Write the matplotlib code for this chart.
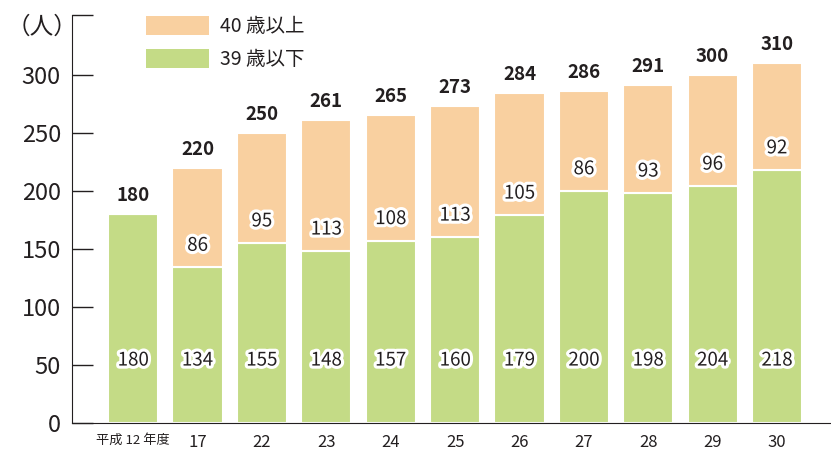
import matplotlib
matplotlib.use("Agg")
import matplotlib.pyplot as plt
import matplotlib.patheffects as pe
from matplotlib.patches import Patch

plt.rcParams['font.family'] = ['Noto Sans CJK JP', 'DejaVu Sans']

years = ["平成 12 年度", "17", "22", "23", "24", "25", "26", "27", "28", "29", "30"]
under39 = [180, 134, 155, 148, 157, 160, 179, 200, 198, 204, 218]
over40 = [0, 86, 95, 113, 108, 113, 105, 86, 93, 96, 92]
totals = [180, 220, 250, 261, 265, 273, 284, 286, 291, 300, 310]

green = "#c4db86"
orange = "#f9d0a0"
ink = "#231f20"

fig = plt.figure(figsize=(8.31, 4.5), dpi=100)
ax = fig.add_axes([0.0866, 0.0607, 0.912, 0.907])

x = list(range(len(years)))
w = 0.78
ax.bar(x, under39, width=w, color=green, edgecolor="white", linewidth=1.5, zorder=2)
ax.bar(x, over40, width=w, bottom=under39, color=orange, edgecolor="white", linewidth=1.5, zorder=2)

halo = [pe.withStroke(linewidth=4.5, foreground="white")]
for i in x:
    ax.text(i, 54, str(under39[i]), ha="center", va="center", fontsize=13.5,
            color=ink, path_effects=halo, zorder=3)
    if over40[i] > 0:
        ax.text(i, under39[i] + 19, str(over40[i]), ha="center", va="center",
                fontsize=13.5, color=ink, path_effects=halo, zorder=3)
    ax.text(i, totals[i] + 16, str(totals[i]), ha="center", va="center",
            fontsize=13.5, fontweight="bold", color=ink, zorder=3)

ax.set_xlim(-0.95, 10.82)
ax.set_ylim(0, 352)
ax.spines["top"].set_visible(False)
ax.spines["right"].set_visible(False)
ax.spines["left"].set_bounds(0, 352)
ax.spines["left"].set_color(ink)
ax.spines["bottom"].set_color(ink)

ax.set_yticks([0, 50, 100, 150, 200, 250, 300, 352])
ax.set_yticklabels(["0", "50", "100", "150", "200", "250", "300", ""])
ax.tick_params(axis="y", direction="in", length=15, width=1, color=ink,
               labelsize=17, labelcolor=ink, pad=8)
ax.set_xticks(x)
ax.set_xticklabels(years)
ax.tick_params(axis="x", length=0, labelsize=12, labelcolor=ink, pad=8)
ax.get_xticklabels()[0].set_fontsize(9.5)
ax.yaxis.get_major_ticks()[-1].tick1line.set_color("#888888")

fig.text(0.008, 0.94, "（人）", fontsize=17, color=ink, va="center")

handles = [Patch(facecolor=orange, label="40 歳以上"),
           Patch(facecolor=green, label="39 歳以下")]
leg = ax.legend(handles=handles, loc="upper left", bbox_to_anchor=(0.075, 1.04),
                frameon=False, fontsize=14, handlelength=3.2, handleheight=1.15,
                labelspacing=0.6, handletextpad=0.6)
for t in leg.get_texts():
    t.set_color(ink)

fig.savefig("out.png", dpi=100)
